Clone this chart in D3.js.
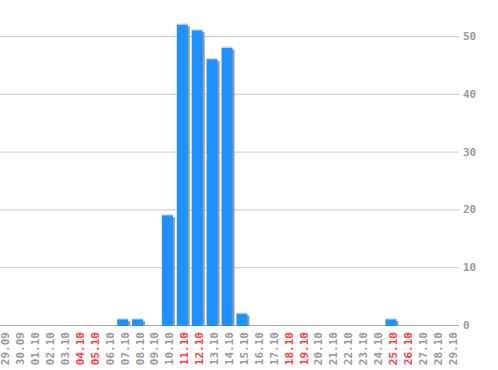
<!DOCTYPE html>
<html>
<head>
<meta charset="utf-8">
<script src="https://d3js.org/d3.v7.min.js"></script>
<style>
  body { margin: 0; background: #fff; }
  svg text { font-family: "DejaVu Sans Mono", monospace; font-size: 11px; font-weight: bold; }
</style>
</head>
<body>
<div id="chart"></div>
<script>
// dates shown on the x axis
const days = ["29.09","30.09","01.10","02.10","03.10","04.10","05.10","06.10","07.10","08.10",
  "09.10","10.10","11.10","12.10","13.10","14.10","15.10","16.10","17.10","18.10",
  "19.10","20.10","21.10","22.10","23.10","24.10","25.10","26.10","27.10","28.10","29.10"];
const counts = [0,0,0,0,0,0,0,0,1,1,
  0,19,52,51,46,48,2,0,0,0,
  0,0,0,0,0,0,1,0,0,0,0];
const weekend = ["04.10","05.10","11.10","12.10","18.10","19.10","25.10","26.10"];
const yTicks = [0, 10, 20, 30, 40, 50];

const width = 498, height = 370;
const svg = d3.select("#chart").append("svg")
    .attr("width", width)
    .attr("height", height);

const x = d3.scaleBand().domain(days).range([-4, 458]);
const y = d3.scaleLinear().domain([0, 50]).range([325, 36]);
const barW = 11;

// gridlines
svg.selectAll(".grid")
    .data(yTicks.filter(d => d > 0))
    .enter().append("line")
    .attr("x1", 0).attr("x2", 459)
    .attr("y1", d => y(d) + 0.5).attr("y2", d => y(d) + 0.5)
    .attr("stroke", "#c8c8c8");

// baseline
svg.append("line")
    .attr("x1", 0).attr("x2", 459)
    .attr("y1", y(0) + 0.5).attr("y2", y(0) + 0.5)
    .attr("stroke", "#aaa");

// y labels on the right
svg.selectAll(".ylab")
    .data(yTicks)
    .enter().append("text")
    .attr("x", 463)
    .attr("y", d => y(d) + 4)
    .attr("fill", "#999")
    .text(d => d);

const bars = days.map((d, i) => ({ day: d, v: counts[i] })).filter(d => d.v > 0);
const cx = d => x(d) + x.bandwidth() / 2;

// shadow
svg.selectAll(".shadow")
    .data(bars)
    .enter().append("rect")
    .attr("x", d => cx(d.day) - barW / 2 + 2)
    .attr("y", d => y(d.v) + 2)
    .attr("width", barW)
    .attr("height", d => y(0) - y(d.v) - 1)
    .attr("fill", "#999");

svg.selectAll(".bar")
    .data(bars)
    .enter().append("rect")
    .attr("x", d => cx(d.day) - barW / 2)
    .attr("y", d => y(d.v))
    .attr("width", barW)
    .attr("height", d => y(0) - y(d.v) + 1)
    .attr("fill", "#1e90ff");

// light top edge
svg.selectAll(".top")
    .data(bars)
    .enter().append("rect")
    .attr("x", d => cx(d.day) - barW / 2)
    .attr("y", d => y(d.v) - 1)
    .attr("width", barW)
    .attr("height", 1)
    .attr("fill", "#d8d8e0");

// x labels rotated
svg.selectAll(".xlab")
    .data(days)
    .enter().append("text")
    .attr("transform", d => `translate(${cx(d) + 6},332) rotate(-90)`)
    .attr("text-anchor", "end")
    .attr("fill", d => weekend.includes(d) ? "#ff4040" : "#999")
    .text(d => d);
</script>
</body>
</html>
